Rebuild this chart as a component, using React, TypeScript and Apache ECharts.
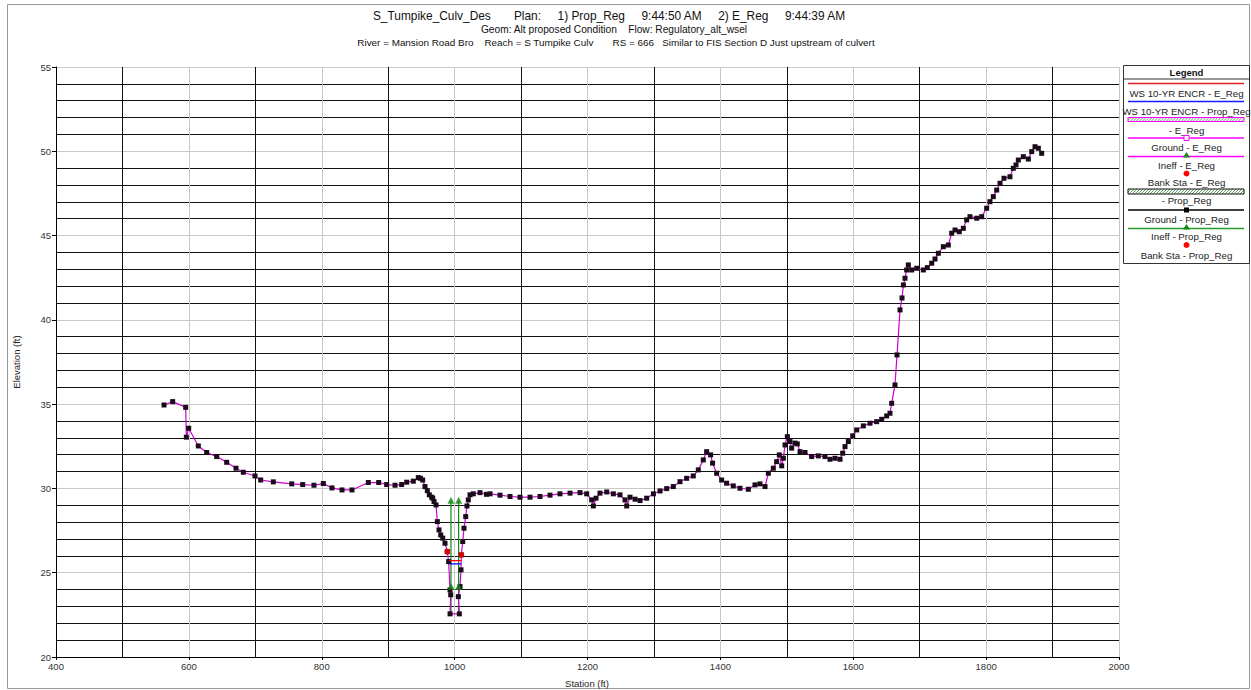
import React, { useEffect, useRef } from "react";
import * as echarts from "echarts";

// Ground profile (station ft, elevation ft)
const groundPoints: [number, number][] = [
  [562.6, 34.95], [575.6, 35.15], [595.2, 34.81], [596.2, 33.04], [599.7, 33.57], [614.2, 32.52],
  [626.8, 32.13], [641.9, 31.89], [656.9, 31.55], [670.9, 31.2], [681.9, 30.96], [699.5, 30.74],
  [708.1, 30.5], [727.1, 30.39], [754.8, 30.27], [771.3, 30.23], [788.3, 30.19], [802.4, 30.29],
  [815.4, 30.03], [830.5, 29.91], [845.5, 29.91], [870.1, 30.35], [885.7, 30.35], [897.7, 30.23],
  [910.3, 30.19], [920.3, 30.23], [927.9, 30.37], [937.8, 30.43], [945.3, 30.64], [948.5, 30.6],
  [951.9, 30.5], [955.4, 30.11], [958.9, 29.87], [961.9, 29.62], [965.5, 29.48], [967.0, 29.42],
  [969.0, 29.22], [972.0, 29.02], [974.0, 28.03], [976.5, 27.54], [979.1, 27.24], [982.1, 27.05],
  [985.5, 26.75], [989.0, 26.25], [991.0, 25.66], [993.1, 23.98], [994.1, 23.69], [993.1, 22.56],
  [1007.1, 22.56], [1005.6, 23.58], [1008.1, 24.18], [1009.6, 25.17], [1010.1, 26.06], [1012.2, 26.85],
  [1014.1, 27.64], [1016.7, 28.33], [1018.6, 28.96], [1020.6, 29.32], [1023.2, 29.62], [1028.1, 29.68],
  [1038.2, 29.75], [1048, 29.65], [1053.3, 29.68], [1068.3, 29.6], [1083.4, 29.52], [1098.4, 29.48],
  [1113.5, 29.48], [1128.5, 29.52], [1143.6, 29.6], [1158.6, 29.68], [1173.7, 29.72], [1188.7, 29.75],
  [1198.8, 29.68], [1206.3, 29.32], [1208.8, 28.96], [1212.8, 29.42], [1218.8, 29.72], [1228.9, 29.79],
  [1238.9, 29.68], [1248.9, 29.62], [1256.5, 29.32], [1259.0, 28.96], [1264.0, 29.48], [1271.6, 29.36],
  [1279.1, 29.28], [1289.1, 29.42], [1299.2, 29.68], [1309.2, 29.85], [1319.2, 29.99], [1329.2, 30.11],
  [1339.2, 30.4], [1349.2, 30.6], [1359.2, 30.74], [1366.8, 31.1], [1374.3, 31.69], [1379.3, 32.18],
  [1385.3, 31.99], [1388.3, 31.5], [1394.4, 30.9], [1401.9, 30.5], [1409.4, 30.31], [1419.4, 30.15],
  [1429.5, 30.01], [1442.1, 29.95], [1452.1, 30.21], [1459.6, 30.27], [1467.2, 30.11], [1472.2, 30.9],
  [1479.7, 31.2], [1484.7, 31.59], [1488.7, 31.99], [1492.3, 31.34], [1494.8, 31.79], [1497.3, 32.58],
  [1500.8, 33.07], [1504.8, 32.78], [1507.3, 32.39], [1512.3, 32.69], [1515.8, 32.64], [1519.9, 32.18],
  [1527.4, 32.13], [1537.4, 31.89], [1547.4, 31.93], [1557.5, 31.89], [1565.0, 31.73], [1572.5, 31.79],
  [1580.1, 31.73], [1584.1, 32.09], [1587.6, 32.48], [1592.6, 32.78], [1599.2, 33.12], [1605.2, 33.47],
  [1615.2, 33.71], [1625.2, 33.87], [1635.2, 33.96], [1642.8, 34.1], [1650.3, 34.3], [1655.3, 34.46],
  [1657.8, 35.05], [1662.8, 36.14], [1665.9, 37.92], [1670.4, 40.59], [1673.4, 41.3], [1675.5, 42.07],
  [1677.9, 42.47], [1680.4, 42.96], [1682.9, 43.26], [1688.0, 42.96], [1695.5, 43.06], [1705.5, 42.96],
  [1711.5, 43.1], [1718.1, 43.36], [1723.1, 43.61], [1728.1, 43.95], [1735.6, 44.34], [1743.1, 44.44],
  [1748.2, 45.14], [1753.2, 45.33], [1759.6, 45.23], [1765.7, 45.43], [1770.7, 45.93], [1775.7, 46.12],
  [1785.8, 46.03], [1793.3, 46.12], [1800.8, 46.62], [1805.8, 47.01], [1810.8, 47.31], [1815.9, 47.7],
  [1820.9, 48.1], [1826.9, 48.4], [1835.9, 48.49], [1840.9, 48.99], [1845.0, 49.19], [1848.5, 49.48],
  [1856.0, 49.68], [1863.6, 49.54], [1868.6, 49.98], [1873.6, 50.27], [1878.6, 50.18], [1883.6, 49.88],
];

// Water surface (10-YR ENCR)
const wsStations = [992, 1010];
const wsElevEReg = 25.72;
const wsElevPropReg = 25.52;

// Ineffective flow / ground markers (green arrows)
const ineffStations = [994.5, 1006];
const ineffBottom = 22.56;
const ineffLow = 24.2;
const ineffTop = 29.3;

// Bank stations
const bankPoints: [number, number][] = [[989.0, 26.25], [1010.1, 26.06]];

// Axis ticks
const xMin = 400, xMax = 2000, xStep = 200;
const yMin = 20, yMax = 55, yStep = 5;

const titleLines = [
  "S_Tumpike_Culv_Des       Plan:     1) Prop_Reg     9:44:50 AM     2) E_Reg     9:44:39 AM",
  "Geom: Alt proposed Condition    Flow: Regulatory_alt_wsel",
  "River = Mansion Road Bro    Reach = S Tumpike Culv       RS = 666   Similar to FIS Section D Just upstream of culvert",
];

const legendLabels = [
  "WS 10-YR ENCR - E_Reg",
  "WS 10-YR ENCR - Prop_Reg",
  "- E_Reg",
  "Ground - E_Reg",
  "Ineff - E_Reg",
  "Bank Sta - E_Reg",
  "- Prop_Reg",
  "Ground - Prop_Reg",
  "Ineff - Prop_Reg",
  "Bank Sta - Prop_Reg",
];

const FONT = "'Liberation Sans', Arial, sans-serif";

function hatchBox(x: number, y: number, w: number, h: number, border: string, hatch: string) {
  const els: any[] = [];
  for (let i = -h; i < w; i += 3) {
    const x1 = Math.max(x, x + i);
    const y1 = y + h - (x1 - (x + i));
    const x2 = Math.min(x + w, x + i + h);
    const y2 = y + h - (x2 - (x + i));
    els.push({ type: "line", shape: { x1, y1, x2, y2 }, style: { stroke: hatch, lineWidth: 0.8 }, silent: true });
  }
  els.push({ type: "rect", shape: { x, y, width: w, height: h }, style: { fill: "none", stroke: border, lineWidth: 1 } });
  return els;
}

function buildLegend() {
  const L = 1123.5, R = 1249.5, T = 65.5, B = 263.5;
  const cx = (L + R) / 2;
  const lx1 = 1128, lx2 = 1244;
  const els: any[] = [];
  els.push({ type: "rect", shape: { x: L, y: T, width: R - L, height: B - T }, style: { fill: "#fff", stroke: "#333", lineWidth: 1 } });
  els.push({ type: "text", x: cx, y: 72, style: { text: "Legend", font: `bold 9.5px ${FONT}`, fill: "#111", align: "center", verticalAlign: "middle" } });
  els.push({ type: "line", shape: { x1: L, y1: 79, x2: R, y2: 79 }, style: { stroke: "#333", lineWidth: 1 } });
  const textY = [93.3, 111.7, 130, 147.3, 165.3, 182.7, 200.7, 219, 236.7, 255];
  legendLabels.forEach((t, i) => {
    els.push({ type: "text", x: cx, y: textY[i], style: { text: t, font: `9.7px ${FONT}`, fill: "#222", align: "center", verticalAlign: "middle" } });
  });
  const ln = (y: number, c: string, w = 1.5) => ({ type: "line", shape: { x1: lx1, y1: y, x2: lx2, y2: y }, style: { stroke: c, lineWidth: w } });
  els.push(ln(83.5, "#e02020"));
  els.push(ln(101.5, "#1a1aff"));
  els.push(...hatchBox(lx1, 117.5, lx2 - lx1, 4, "#ff00ff", "#3a8a3a"));
  els.push(ln(138, "#ff00ff"));
  els.push({ type: "rect", shape: { x: cx - 2.5, y: 135.5, width: 5, height: 5 }, style: { fill: "#fff", stroke: "#ff00ff", lineWidth: 1 } });
  els.push(ln(156.5, "#ff00ff"));
  els.push({ type: "polygon", shape: { points: [[cx, 152], [cx - 3.5, 157.5], [cx + 3.5, 157.5]] }, style: { fill: "#108a10" } });
  els.push({ type: "circle", shape: { cx, cy: 173.5, r: 3 }, style: { fill: "#ff0000" } });
  els.push(...hatchBox(lx1, 189, lx2 - lx1, 5, "#111", "#3a8a3a"));
  els.push(ln(210, "#000"));
  els.push({ type: "rect", shape: { x: cx - 2.5, y: 207.5, width: 5, height: 5 }, style: { fill: "#000" } });
  els.push(ln(228.5, "#2a9a2a"));
  els.push({ type: "polygon", shape: { points: [[cx, 224], [cx - 3.5, 229.5], [cx + 3.5, 229.5]] }, style: { fill: "#108a10" } });
  els.push({ type: "circle", shape: { cx, cy: 245, r: 3 }, style: { fill: "#ff0000" } });
  return els;
}

export default function App() {
  const ref = useRef<HTMLDivElement>(null);
  useEffect(() => {
    if (!ref.current) return;
    const chart = echarts.init(ref.current, undefined, { renderer: "svg" });

    const greenSeries = ineffStations.map((s) => ({
      type: "line",
      data: [[s, ineffBottom], [s, ineffTop]],
      symbol: "none",
      lineStyle: { color: "#108a10", width: 1.2 },
      z: 4,
      silent: true,
    }));

    const option: any = {
      animation: false,
      backgroundColor: "#fff",
      textStyle: { fontFamily: FONT },
      grid: { left: 56, top: 67, width: 1063, height: 590, containLabel: false },
      xAxis: {
        type: "value",
        min: xMin,
        max: xMax,
        interval: xStep,
        axisLine: { show: true, onZero: false, lineStyle: { color: "#000", width: 1 } },
        axisTick: { show: true, length: 3, lineStyle: { color: "#000" } },
        axisLabel: { fontSize: 9.5, color: "#333", margin: 4, fontFamily: FONT, formatter: (v: number) => String(v) },
        splitLine: { show: true, lineStyle: { color: "#c8c8c8", width: 1 } },
        minorTick: { show: false, splitNumber: 2 },
        minorSplitLine: { show: true, lineStyle: { color: "#111", width: 1 } },
      },
      yAxis: {
        type: "value",
        min: yMin,
        max: yMax,
        interval: yStep,
        axisLine: { show: true, onZero: false, lineStyle: { color: "#000", width: 1 } },
        axisTick: { show: true, length: 4, lineStyle: { color: "#000" } },
        axisLabel: { fontSize: 9.5, color: "#333", margin: 5, fontFamily: FONT, formatter: (v: number) => String(v) },
        splitLine: { show: true, lineStyle: { color: "#c8c8c8", width: 1 } },
        minorTick: { show: false, splitNumber: 5 },
        minorSplitLine: { show: true, lineStyle: { color: "#111", width: 1 } },
      },
      series: [
        ...greenSeries,
        {
          type: "line",
          data: groundPoints,
          symbol: "rect",
          symbolSize: 5,
          showAllSymbol: true,
          lineStyle: { color: "#d000d0", width: 1.2 },
          itemStyle: { color: "#1a0a1a" },
          z: 5,
          silent: true,
        },
        {
          type: "line",
          data: wsStations.map((s) => [s, wsElevEReg]),
          symbol: "none",
          lineStyle: { color: "#ff0000", width: 1.2 },
          z: 6,
          silent: true,
        },
        {
          type: "line",
          data: wsStations.map((s) => [s, wsElevPropReg]),
          symbol: "none",
          lineStyle: { color: "#0000ff", width: 1.2 },
          z: 6,
          silent: true,
        },
        {
          type: "scatter",
          data: [
            ...ineffStations.map((s) => [s, ineffTop]),
            ...ineffStations.map((s) => [s, ineffLow]),
          ],
          symbol: "triangle",
          symbolSize: [7, 7],
          itemStyle: { color: "#108a10" },
          z: 7,
          silent: true,
        },
        {
          type: "scatter",
          data: bankPoints,
          symbol: "circle",
          symbolSize: 6,
          itemStyle: { color: "#ff0000" },
          z: 8,
          silent: true,
        },
      ],
      graphic: [
        { type: "rect", shape: { x: 7.5, y: 4.5, width: 1242, height: 684 }, style: { fill: "none", stroke: "#999", lineWidth: 1 }, silent: true, z: -10 },
        { type: "text", x: 609, y: 16, style: { text: titleLines[0], font: `11.9px ${FONT}`, fill: "#111", align: "center", verticalAlign: "middle" } },
        { type: "text", x: 614, y: 29, style: { text: titleLines[1], font: `10.2px ${FONT}`, fill: "#111", align: "center", verticalAlign: "middle" } },
        { type: "text", x: 616, y: 42, style: { text: titleLines[2], font: `9.9px ${FONT}`, fill: "#111", align: "center", verticalAlign: "middle" } },
        { type: "text", x: 16, y: 362, rotation: Math.PI / 2, style: { text: "Elevation (ft)", font: `9.5px ${FONT}`, fill: "#222", align: "center", verticalAlign: "middle" } },
        { type: "text", x: 587, y: 683, style: { text: "Station (ft)", font: `9.5px ${FONT}`, fill: "#222", align: "center", verticalAlign: "middle" } },
        { type: "group", children: buildLegend() },
      ],
    };
    chart.setOption(option);
    return () => chart.dispose();
  }, []);
  return (
    <div
      ref={ref}
      style={{ position: "fixed", left: 0, top: 0, width: 1251, height: 690, background: "#fff" }}
    />
  );
}
